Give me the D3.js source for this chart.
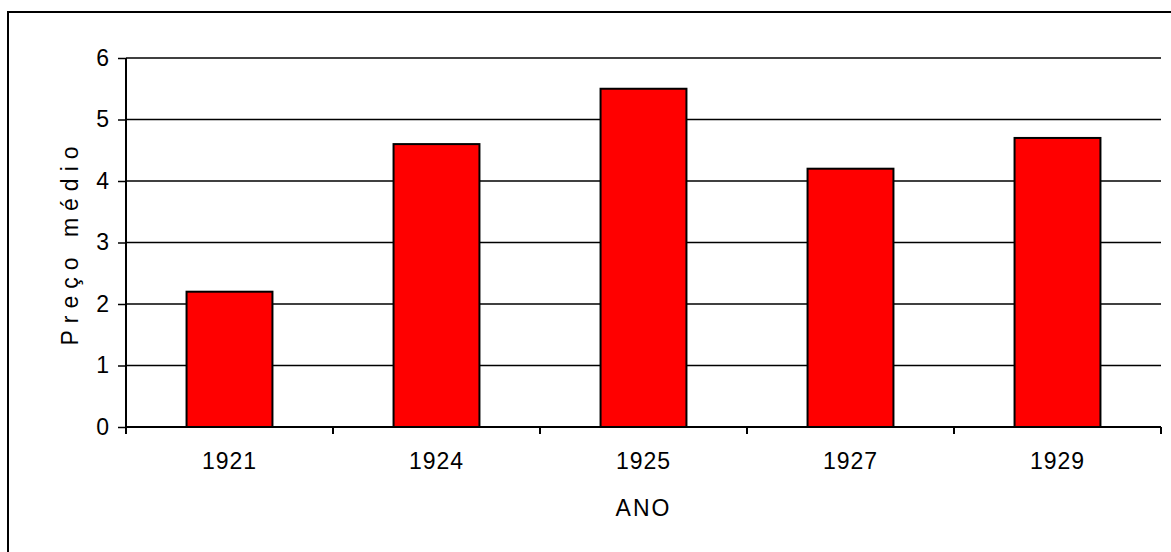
<!DOCTYPE html>
<html><head><meta charset="utf-8">
<script src="https://cdn.jsdelivr.net/npm/d3@7"></script>
<style>body{margin:0;background:#fff}svg{display:block}text{font-family:"Liberation Sans",Arial,sans-serif;fill:#000}</style>
</head><body><svg id="c" width="1171" height="552"></svg>
<script>
const categories = ["1921","1924","1925","1927","1929"];
const values = [2.2, 4.6, 5.5, 4.2, 4.7];
const yTicks = [0,1,2,3,4,5,6];
const xTitle = "ANO";
const yTitle = "Preço médio";

const svg = d3.select("#c");
const L = 126, R = 1161, T = 58, B = 427;
svg.append("rect").attr("x",8).attr("y",12).attr("width",1180).attr("height",560)
  .attr("fill","#fff").attr("stroke","#000").attr("stroke-width",2);

const x = d3.scaleBand().domain(categories).range([L,R]).paddingInner(0.585).paddingOuter(0.2925);
const xb = d3.scaleBand().domain(categories).range([L,R]);
const y = d3.scaleLinear().domain([0,6]).range([B,T]);

svg.append("g").selectAll("line").data(yTicks.filter(d=>d>0)).join("line")
  .attr("x1",L).attr("x2",R).attr("y1",d=>y(d)).attr("y2",d=>y(d))
  .attr("stroke","#000").attr("stroke-width",1.5);

svg.append("g").selectAll("rect").data(values).join("rect")
  .attr("x",(d,i)=>x(categories[i])).attr("width",x.bandwidth())
  .attr("y",d=>y(d)).attr("height",d=>B-y(d))
  .attr("fill","#ff0000").attr("stroke","#000").attr("stroke-width",2);

const ya = d3.axisLeft(y).tickValues(yTicks).tickSize(8).tickPadding(9).tickFormat(d3.format("d"));
const gy = svg.append("g").attr("transform",`translate(${L},0)`).call(ya);
gy.select(".domain").attr("stroke","#000").attr("stroke-width",2).attr("d",`M0,${T}V${B}`);
gy.selectAll(".tick line").attr("stroke","#000").attr("stroke-width",1.5);
gy.selectAll(".tick text").attr("font-size",23).attr("font-family","Liberation Sans, Arial, sans-serif").attr("fill","#000");

const xa = d3.axisBottom(xb).tickSize(0).tickPadding(26);
const gx = svg.append("g").attr("transform",`translate(0,${B})`).call(xa);
gx.select(".domain").attr("stroke","#000").attr("stroke-width",2).attr("d",`M${L},0H${R}`);
gx.selectAll(".tick text").attr("font-size",23).attr("letter-spacing","1px").attr("font-family","Liberation Sans, Arial, sans-serif").attr("fill","#000");
const bounds = categories.map(c=>xb(c)).concat([R]);
svg.append("g").selectAll("line").data(bounds).join("line")
  .attr("x1",d=>d).attr("x2",d=>d).attr("y1",B).attr("y2",B+7)
  .attr("stroke","#000").attr("stroke-width",2);

svg.append("text").attr("x",(L+R)/2).attr("y",516).attr("text-anchor","middle")
  .attr("font-size",23).attr("letter-spacing","2px").text(xTitle);
svg.append("text").attr("transform",`translate(78,${(T+B)/2}) rotate(-90)`).attr("text-anchor","middle")
  .attr("font-size",23).attr("letter-spacing","7px").text(yTitle);
</script></body></html>
